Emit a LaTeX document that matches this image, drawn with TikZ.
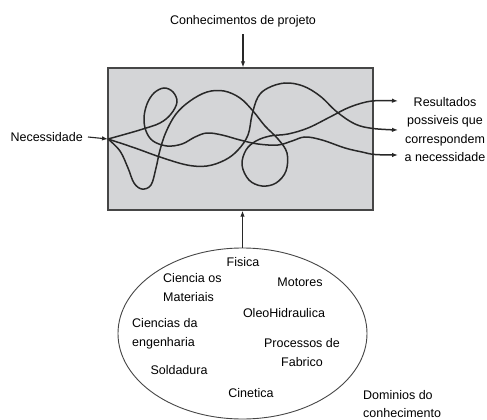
\documentclass[tikz,border=0pt]{standalone}
\usepackage{fontspec}
\setmainfont{Liberation Sans}
\usetikzlibrary{shapes.geometric,arrows.meta}
\definecolor{boxfill}{RGB}{212,213,215}
\definecolor{ink}{RGB}{40,40,40}
\definecolor{edgec}{RGB}{70,70,70}
\begin{document}
\begin{tikzpicture}[x=1pt,y=-1pt,
  lbl/.style={font=\fontsize{12.5}{18.5}\selectfont, inner sep=0pt, text=black},
  strand/.style={draw=ink, line width=1.5pt, -{Latex[length=6pt,width=4.5pt]}},
  arr/.style={draw=ink, line width=1.1pt, -{Latex[length=6pt,width=4.5pt]}}]
\useasboundingbox (0,0) rectangle (487,420);
\node[draw=edgec, line width=1.4pt, fill=boxfill, minimum width=265pt, minimum height=142pt, inner sep=0pt] (box) at (240.5,139) {};
\node[ellipse, draw=edgec, line width=0.9pt, minimum width=249pt, minimum height=171pt, inner sep=0pt] (dom) at (242.5,333.5) {};
\coordinate (S) at (108,139);
\coordinate (r1) at (398,101);
\coordinate (r2) at (398,130);
\coordinate (r3) at (398,155);

% labels
\node[lbl] (kp) at (243,21) {Conhecimentos de projeto};
\node[lbl, anchor=east] (nec) at (83,137) {Necessidade};
\node[lbl, align=center] (res) at (445,129.5) {Resultados\\possiveis que\\correspondem\\a necessidade};
\node[lbl, align=left, anchor=west] (dk) at (363,404) {Dominios do\\conhecimento};

\node[lbl] (fis) at (243,262) {Fisica};
\node[lbl, align=left, anchor=west] (cm) at (163,287.5) {Ciencia os\\Materiais};
\node[lbl] (mot) at (300,282) {Motores};
\node[lbl] (oh) at (284,313) {OleoHidraulica};
\node[lbl, align=left, anchor=west] (ce) at (132,334) {Ciencias da\\engenharia};
\node[lbl, align=center] (pf) at (302,352.5) {Processos de\\Fabrico};
\node[lbl] (sol) at (179,370) {Soldadura};
\node[lbl] (cin) at (251,393) {Cinetica};

% arrows
\draw[arr] ([yshift=-7pt]kp.south) -- (kp.south |- box.north);
\draw[arr] ([xshift=5pt]nec.east) -- (S);
\draw[arr] (dom.north) -- (dom.north |- box.south);

% strands
\draw[strand] plot[smooth, tension=0.6] coordinates {(S) (126,134) (143,129) (160,123) (171,114) (177,102) (173,92) (164,88) (154,93) (147,104) (144,118) (146,131) (153,141) (167,146) (182,144) (195,137) (207,133) (222,135) (240,140) (258,144) (278,145) (292,141) (305,137) (322,140) (345,148) (362,152) (375,154.5) (r3)};
\draw[strand] plot[smooth, tension=0.6] coordinates {(S) (135,148) (160,157) (187,165) (207,166) (225,160) (238,150) (248,135) (252,115) (258,97) (268,88) (285,83) (303,86) (320,96) (337,112) (355,124) (373,128.5) (r2)};
\draw[strand] plot[smooth, tension=0.6] coordinates {(S) (120,151) (128,168) (134,183) (142,189) (151,185) (156,168) (160,150) (166,132) (176,114) (190,101) (207,92) (224,91) (240,98) (253,111) (265,126) (278,139) (287,153) (286,171) (276,183) (262,186) (249,180) (242,165) (246,150) (256,141) (270,136) (288,134) (308,128) (330,117) (350,107) (372,101) (r1)};
\end{tikzpicture}
\end{document}
